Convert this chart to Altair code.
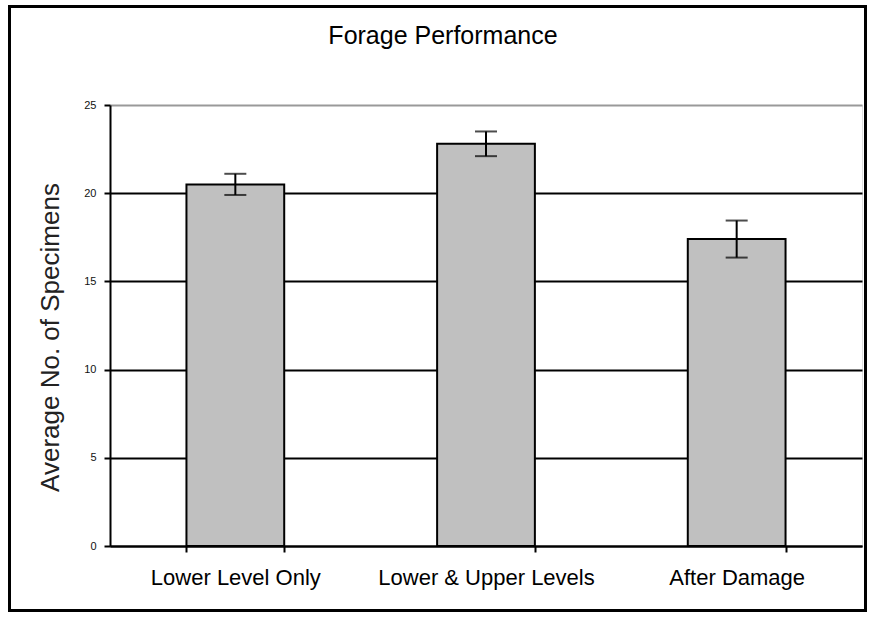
import altair as alt
import pandas as pd

categories = ["Lower Level Only", "Lower & Upper Levels", "After Damage"]
means = [20.5, 22.8, 17.4]
errors = [0.6, 0.7, 1.05]
title_text = "Forage Performance"

df = pd.DataFrame({
    "cat": categories,
    "mean": means,
    "lo": [m - e for m, e in zip(means, errors)],
    "hi": [m + e for m, e in zip(means, errors)],
})

W, H = 752, 441
FONT = "Liberation Sans"

x = alt.X("cat:N", sort=categories, title=None,
          scale=alt.Scale(paddingInner=0.61, paddingOuter=0.305),
          axis=alt.Axis(labelAngle=0, labelFontSize=22, labelColor="black",
                        labelFont=FONT, labelPadding=15, labelLimit=0, tickBand="extent",
                        tickSize=6, tickColor="black", tickWidth=2,
                        domainColor="black", domainWidth=2, grid=False))

yscale = alt.Scale(domain=[0, 25], padding=0, nice=False)

bars = alt.Chart(df).mark_bar(color="#c0c0c0", stroke="black", strokeWidth=2).encode(
    x=x,
    y=alt.Y("mean:Q", title="Average No. of Specimens", scale=yscale,
            axis=alt.Axis(values=[0, 5, 10, 15, 20, 25], labelFontSize=11,
                          labelFont=FONT, labelColor="#111", labelPadding=8,
                          tickSize=6, tickColor="black", tickWidth=2,
                          domainColor="black", domainWidth=2,
                          grid=True,
                          gridColor=alt.condition("datum.value == 25", alt.value("#999999"), alt.value("black")),
                          gridWidth=2,
                          titleFontSize=26, titleFont=FONT, titleFontWeight="normal",
                          titleColor="#222", titlePadding=20, titleY=232)),
)

rules = alt.Chart(df).mark_rule(color="black", strokeWidth=2).encode(
    x=alt.X("cat:N", sort=categories), y=alt.Y("lo:Q", scale=yscale), y2="hi:Q")
caps_hi = alt.Chart(df).mark_tick(color="black", size=22, thickness=2, orient="horizontal").encode(
    x=alt.X("cat:N", sort=categories), y=alt.Y("hi:Q", scale=yscale))
caps_lo = alt.Chart(df).mark_tick(color="black", size=22, thickness=2, orient="horizontal").encode(
    x=alt.X("cat:N", sort=categories), y=alt.Y("lo:Q", scale=yscale))

one = pd.DataFrame({"t": [title_text]})
border = alt.Chart(one).mark_rect(
    fill=None, stroke="black", strokeWidth=3).encode(
    x=alt.value(-100.5), x2=alt.value(755.5), y=alt.value(-98.5), y2=alt.value(505.5))

title = alt.Chart(one).mark_text(
    font=FONT, fontSize=25, color="black", align="center", baseline="alphabetic").encode(
    text="t:N", x=alt.value(333), y=alt.value(-61))

chart = alt.layer(bars, rules, caps_hi, caps_lo, border, title).properties(
    width=W, height=H,
    autosize=alt.AutoSizeParams(type="none"),
    padding={"left": 110, "top": 105, "right": 13, "bottom": 79},
).configure_view(stroke="#999999", strokeWidth=2).configure(background="white")

chart.save("out.html", embed_options={"renderer": "svg", "actions": False})
